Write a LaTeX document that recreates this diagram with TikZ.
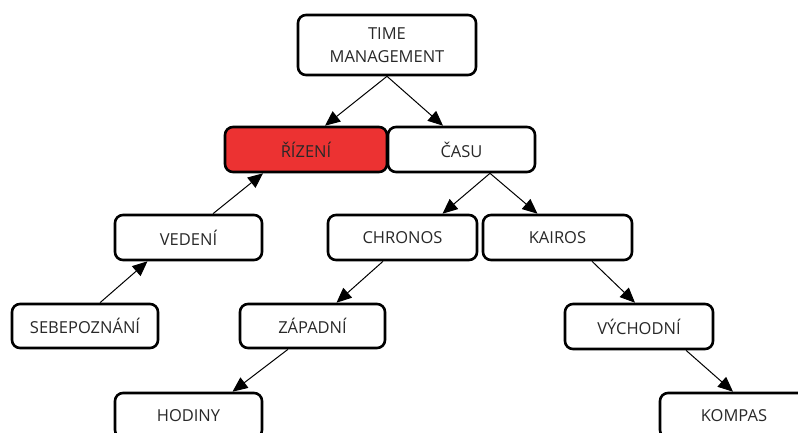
\documentclass[tikz,border=0pt]{standalone}
\usepackage{fontspec}
\setmainfont{Open Sans}
\usetikzlibrary{arrows.meta,calc}
\definecolor{boxred}{RGB}{236,50,50}
\definecolor{txt}{RGB}{40,40,40}
\tikzset{
  topic/.style={draw=black, line width=2.6pt, rounded corners=8pt, fill=white,
    text=txt, font=\fontsize{16.5}{23}\selectfont, align=center,
    minimum height=45pt, inner sep=0pt},
  link/.style={draw=black, line width=1pt,
    -{Triangle[length=15pt,width=13pt]}}
}
\begin{document}
\begin{tikzpicture}[x=1pt,y=-1pt]
  \useasboundingbox (0,0) rectangle (798,432);
  \clip (0,0) rectangle (798,432);
  % boxes
  \node[topic, minimum width=178pt, minimum height=60pt] (tm) at (387,45) {TIME\\MANAGEMENT};
  \node[topic, fill=boxred, minimum width=162pt] (riz) at (306,149.5) {ŘÍZENÍ};
  \node[topic, minimum width=147pt] (casu) at (461.5,149.5) {ČASU};
  \node[topic, minimum width=147pt] (ved) at (188.5,237.5) {VEDENÍ};
  \node[topic, minimum width=149pt] (chr) at (402.5,237.5) {CHRONOS};
  \node[topic, minimum width=149pt] (kai) at (557.5,237.5) {KAIROS};
  \node[topic, minimum width=146pt, minimum height=44pt] (seb) at (85,326) {SEBEPOZNÁNÍ};
  \node[topic, minimum width=145pt, minimum height=44pt] (zap) at (312.5,326) {ZÁPADNÍ};
  \node[topic, minimum width=148pt] (vych) at (639,326.5) {VÝCHODNÍ};
  \node[topic, minimum width=147pt] (hod) at (188.5,415.5) {HODINY};
  \node[topic, minimum width=148pt] (komp) at (734,415.5) {KOMPAS};
  % connectors
  \draw[link] (tm.south) -- ([xshift=19pt]riz.north);
  \draw[link] (tm.south) -- ([xshift=-18.5pt]casu.north);
  \draw[link] ([xshift=28.5pt]casu.south) -- ([xshift=40pt]chr.north);
  \draw[link] ([xshift=28.5pt]casu.south) -- ([xshift=-20pt]kai.north);
  \draw[link] ([xshift=15pt]seb.north) -- ([xshift=-41pt]ved.south);
  \draw[link] ([xshift=24.5pt]ved.north) -- ([xshift=-43pt]riz.south);
  \draw[link] ([xshift=-19.5pt]chr.south) -- ([xshift=24pt]zap.north);
  \draw[link] ([xshift=34.5pt]kai.south) -- ([xshift=-4pt]vych.north);
  \draw[link] ([xshift=-24.5pt]zap.south) -- ([xshift=44pt]hod.north);
  \draw[link] ([xshift=47pt]vych.south) -- ([xshift=-1pt]komp.north);
\end{tikzpicture}
\end{document}
